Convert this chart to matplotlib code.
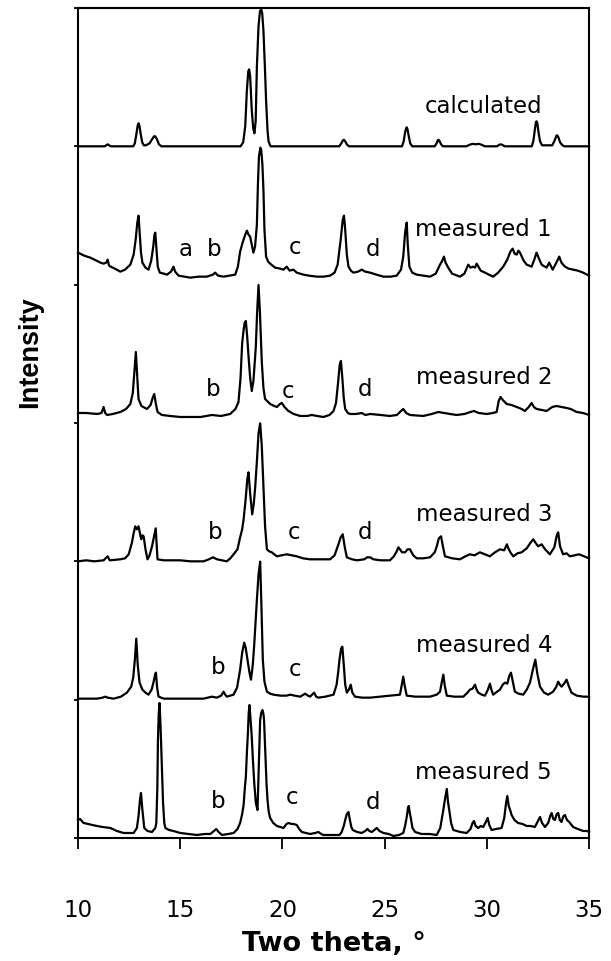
import matplotlib
matplotlib.use("Agg")
import matplotlib.pyplot as plt

# two theta (deg) and intensity (a.u.)
calc_tt = [10.0, 11.3, 11.38, 11.45, 11.52, 11.6, 12.7, 12.78, 12.86, 12.92, 12.96, 13.0, 13.06, 13.14,
           13.22, 13.32, 13.5, 13.62, 13.72, 13.78, 13.86, 13.96, 14.08, 17.95, 18.08, 18.18, 18.26,
           18.33, 18.37, 18.42, 18.5, 18.57, 18.63, 18.69, 18.75, 18.83, 18.9, 18.96, 19.01, 19.07,
           19.14, 19.2, 19.27, 19.32, 19.42, 22.78, 22.88, 22.96, 23.01, 23.07, 23.15, 23.25, 25.85,
           25.93, 26.0, 26.05, 26.08, 26.12, 26.18, 26.25, 26.35, 27.45, 27.54, 27.6, 27.63, 27.68,
           27.76, 27.85, 29.0, 29.15, 29.3, 29.45, 29.6, 29.75, 29.9, 30.5, 30.6, 30.67, 30.75, 30.88,
           32.2, 32.28, 32.35, 32.4, 32.43, 32.47, 32.52, 32.6, 32.7, 33.2, 33.32, 33.4, 33.44, 33.5,
           33.58, 33.7, 33.8, 35.0]
calc_int = [0, 0, 1, 2, 1, 0, 0, 3, 13, 21, 23, 21, 13, 4,
            1, 1, 3, 7, 10, 10, 7, 2, 0, 0, 4, 20, 56,
            75, 77, 70, 36, 18, 13, 25, 80, 120, 135, 137, 133, 116,
            80, 46, 16, 5, 0, 0, 3, 6, 6.5, 5, 2, 0, 0,
            5, 14, 18, 19, 17, 10, 3, 0, 0, 3, 6, 6.5, 5.5,
            2, 0, 0, 1.5, 2.5, 2, 2.5, 1.5, 0, 0, 1.5, 2, 1.5, 0,
            0, 6, 17, 24, 25, 23, 15, 5, 1, 1, 6, 10.5, 11, 9,
            4, 1, 0, 0]

m1_tt = [10.0, 10.3, 10.6, 10.9, 11.1, 11.25, 11.38, 11.45, 11.52, 11.6, 11.8, 12.07, 12.3, 12.56,
         12.72, 12.82, 12.9, 12.96, 13.02, 13.08, 13.15, 13.3, 13.45, 13.58, 13.68, 13.74, 13.78, 13.84,
         13.9, 14.0, 14.2, 14.35, 14.55, 14.67, 14.75, 14.92, 15.2, 15.49, 15.9, 16.3, 16.6, 16.71,
         16.85, 17.12, 17.4, 17.69, 17.82, 17.93, 18.05, 18.18, 18.26, 18.34, 18.42, 18.5, 18.58, 18.66,
         18.75, 18.8, 18.85, 18.92, 18.96, 19.02, 19.07, 19.12, 19.2, 19.3, 19.4, 19.64, 19.9, 20.05,
         20.21, 20.35, 20.54, 20.7, 21.03, 21.3, 21.68, 22.0, 22.33, 22.55, 22.7, 22.85, 22.95, 23.01,
         23.07, 23.15, 23.23, 23.35, 23.47, 23.7, 23.88, 24.05, 24.29, 24.6, 24.94, 25.3, 25.59, 25.8,
         25.91, 26.0, 26.08, 26.13, 26.21, 26.35, 26.57, 26.9, 27.22, 27.5, 27.71, 27.82, 27.9, 27.98,
         28.11, 28.3, 28.68, 28.9, 29.09, 29.2, 29.33, 29.42, 29.5, 29.7, 29.91, 30.1, 30.31, 30.55,
         30.8, 31.0, 31.15, 31.26, 31.36, 31.46, 31.54, 31.62, 31.8, 31.95, 32.19, 32.32, 32.43, 32.55,
         32.68, 32.92, 33.05, 33.22, 33.4, 33.54, 33.65, 33.82, 34.0, 34.22, 34.45, 34.71, 35.0]
m1_int = [32, 29, 27, 24, 22, 21, 22, 25, 19, 18, 16, 13, 15, 20,
          30, 45, 62, 69, 50, 32, 22, 17, 15, 24, 38, 50, 52, 35,
          18, 12, 11, 10, 13, 18, 13, 9, 8, 7, 8, 8, 10, 12,
          9, 8, 9, 10, 18, 33, 42, 50, 54, 50, 48, 40, 32, 38,
          60, 100, 128, 137, 135, 120, 95, 55, 28, 23, 21, 17, 16, 15,
          18, 14, 15, 12, 10, 9, 8, 8, 9, 12, 20, 45, 65, 69,
          55, 30, 18, 14, 12, 13, 15, 13, 12, 10, 8, 8, 9, 15,
          28, 52, 62, 40, 18, 12, 10, 9, 8, 11, 20, 24, 28, 22,
          17, 11, 8, 11, 20, 17, 18, 17, 21, 14, 12, 10, 8, 12,
          18, 25, 33, 36, 31, 30, 34, 32, 24, 20, 18, 25, 32, 26,
          20, 17, 22, 15, 22, 28, 22, 18, 16, 15, 14, 12, 9]

m2_tt = [10.0, 10.4, 10.93, 11.15, 11.25, 11.33, 11.42, 11.7, 12.07, 12.35, 12.56, 12.68, 12.76, 12.83,
         12.9, 12.96, 13.1, 13.37, 13.55, 13.65, 13.73, 13.8, 13.89, 14.1, 14.51, 15.0, 15.49, 16.0,
         16.55, 17.0, 17.44, 17.7, 17.85, 17.95, 18.03, 18.1, 18.15, 18.21, 18.28, 18.34, 18.42, 18.5,
         18.58, 18.65, 18.7, 18.76, 18.83, 18.9, 18.99, 19.07, 19.15, 19.4, 19.6, 19.73, 19.88, 19.97,
         20.1, 20.29, 20.55, 20.87, 21.2, 21.44, 21.7, 22.0, 22.3, 22.5, 22.62, 22.72, 22.8, 22.86,
         22.93, 23.0, 23.07, 23.2, 23.31, 23.6, 23.88, 24.05, 24.29, 24.8, 25.26, 25.6, 25.8, 25.91,
         26.05, 26.24, 26.89, 27.3, 27.63, 27.9, 28.2, 28.52, 28.9, 29.2, 29.37, 29.6, 29.99, 30.3,
         30.48, 30.58, 30.67, 30.78, 30.97, 31.2, 31.46, 31.7, 31.86, 32.05, 32.19, 32.3, 32.43, 32.7,
         32.92, 33.2, 33.41, 33.65, 33.9, 34.1, 34.39, 34.7, 35.0]
m2_int = [10, 10, 9, 10, 16, 10, 8, 9, 11, 14, 19, 30, 52, 71,
          45, 24, 17, 14, 18, 25, 29, 20, 11, 8, 7, 6, 6, 6,
          8, 7, 9, 14, 21, 45, 80, 93, 100, 102, 85, 67, 45, 32,
          42, 62, 77, 110, 138, 110, 61, 35, 24, 19, 17, 16, 19, 20,
          16, 12, 9, 7, 7, 8, 7, 6, 8, 12, 20, 40, 58, 62,
          45, 25, 14, 10, 9, 9, 10, 8, 9, 8, 7, 8, 12, 14,
          10, 8, 7, 9, 11, 10, 9, 8, 9, 11, 12, 10, 9, 10,
          11, 22, 26, 23, 19, 18, 16, 14, 12, 16, 20, 16, 14, 13,
          12, 16, 17, 16, 15, 14, 11, 10, 8]

m3_tt = [10.0, 10.4, 10.8, 11.25, 11.45, 11.55, 12.07, 12.3, 12.48, 12.64, 12.72, 12.8, 12.88, 12.96,
         13.03, 13.09, 13.15, 13.21, 13.3, 13.4, 13.5, 13.62, 13.72, 13.8, 13.85, 13.89, 14.2, 14.51,
         15.0, 15.5, 16.14, 16.4, 16.6, 16.8, 17.28, 17.45, 17.61, 17.8, 17.93, 18.03, 18.1, 18.2,
         18.28, 18.34, 18.42, 18.52, 18.6, 18.67, 18.75, 18.83, 18.91, 18.99, 19.07, 19.15, 19.24, 19.35,
         19.48, 19.6, 19.73, 19.95, 20.21, 20.45, 20.7, 21.0, 21.35, 21.8, 22.33, 22.55, 22.74, 22.85,
         22.95, 23.05, 23.15, 23.4, 23.64, 24.0, 24.15, 24.29, 24.45, 24.8, 25.26, 25.45, 25.59, 25.67,
         25.75, 25.85, 26.0, 26.12, 26.24, 26.4, 26.57, 26.9, 27.22, 27.45, 27.55, 27.65, 27.76, 27.85,
         27.95, 28.3, 28.68, 28.95, 29.17, 29.4, 29.66, 29.9, 30.15, 30.4, 30.64, 30.85, 30.98, 31.05,
         31.15, 31.29, 31.5, 31.7, 31.95, 32.15, 32.27, 32.4, 32.51, 32.68, 32.85, 33.08, 33.3, 33.42,
         33.49, 33.58, 33.73, 33.9, 34.06, 34.3, 34.51, 34.75, 35.0]
m3_int = [0, 1, 0, 1, 5, 1, 2, 3, 7, 19, 28, 35, 32, 35,
          28, 22, 26, 25, 12, 2, 6, 15, 25, 33, 15, 2, 1, 1,
          1, 0, 0, 2, 4, 2, 0, 3, 7, 12, 24, 32, 42, 62,
          82, 89, 68, 47, 58, 75, 100, 128, 138, 115, 75, 35, 12, 10,
          9, 7, 5, 6, 7, 6, 5, 3, 2, 2, 2, 6, 17, 24,
          27, 14, 4, 2, 1, 2, 4, 4, 2, 1, 1, 5, 10, 14,
          12, 9, 9, 12, 12, 6, 3, 3, 4, 9, 15, 23, 25, 15,
          5, 3, 2, 5, 7, 6, 9, 7, 5, 9, 12, 11, 17, 13,
          9, 5, 8, 9, 13, 19, 22, 18, 15, 17, 12, 7, 14, 26,
          29, 15, 7, 8, 5, 6, 7, 5, 3]

m4_tt = [10.0, 10.5, 10.93, 11.2, 11.33, 11.45, 11.74, 12.1, 12.39, 12.6, 12.7, 12.78, 12.85, 12.92,
         13.01, 13.15, 13.3, 13.45, 13.6, 13.7, 13.77, 13.81, 13.87, 13.94, 14.2, 14.51, 15.3, 16.14,
         16.35, 16.55, 16.79, 17.0, 17.12, 17.2, 17.28, 17.61, 17.78, 17.93, 18.03, 18.13, 18.2, 18.29,
         18.38, 18.46, 18.55, 18.62, 18.67, 18.75, 18.83, 18.91, 18.97, 19.04, 19.12, 19.24, 19.4, 19.56,
         19.9, 20.2, 20.38, 20.6, 20.87, 21.11, 21.25, 21.35, 21.55, 21.65, 21.76, 22.1, 22.5, 22.65,
         22.73, 22.79, 22.87, 22.93, 23.0, 23.07, 23.15, 23.25, 23.34, 23.42, 23.55, 23.9, 24.29, 24.78,
         25.3, 25.75, 25.84, 25.91, 25.98, 26.08, 26.5, 27.22, 27.55, 27.71, 27.8, 27.87, 27.94, 28.04,
         28.4, 28.85, 29.05, 29.17, 29.3, 29.42, 29.5, 29.58, 29.75, 29.91, 30.05, 30.15, 30.22, 30.31,
         30.5, 30.64, 30.78, 30.88, 31.0, 31.1, 31.18, 31.27, 31.37, 31.55, 31.78, 31.95, 32.11, 32.25,
         32.37, 32.47, 32.6, 32.8, 33.0, 33.24, 33.4, 33.49, 33.57, 33.65, 33.78, 33.9, 34.0, 34.14,
         34.4, 34.71, 35.0]
m4_int = [1, 1, 1, 2, 3, 2, 1, 3, 7, 13, 22, 40, 61, 35,
          17, 10, 7, 5, 10, 18, 25, 27, 12, 3, 1, 1, 1, 1,
          2, 3, 2, 4, 8, 5, 3, 5, 12, 30, 47, 57, 52, 40,
          28, 20, 35, 55, 73, 100, 125, 138, 95, 40, 18, 8, 6, 5,
          4, 4, 5, 4, 3, 6, 4, 3, 7, 3, 2, 3, 5, 15,
          28, 40, 51, 53, 35, 15, 7, 10, 15, 7, 3, 2, 2, 3,
          4, 5, 15, 23, 14, 4, 3, 3, 5, 8, 18, 25, 14, 4,
          3, 3, 7, 10, 11, 15, 10, 7, 5, 4, 10, 16, 10, 5,
          8, 10, 15, 17, 16, 24, 27, 18, 8, 6, 5, 10, 17, 30,
          40, 26, 13, 7, 5, 8, 13, 18, 15, 13, 16, 20, 14, 7,
          4, 3, 3]

m5_tt = [10.0, 10.1, 10.27, 10.5, 10.7, 10.93, 11.2, 11.58, 11.9, 12.23, 12.5, 12.72, 12.88, 12.96,
         13.03, 13.08, 13.14, 13.24, 13.4, 13.62, 13.78, 13.83, 13.88, 13.91, 13.95, 13.99, 14.04, 14.1,
         14.16, 14.22, 14.27, 14.45, 14.67, 15.0, 15.4, 15.81, 16.2, 16.47, 16.65, 16.76, 16.88, 17.04,
         17.35, 17.61, 17.8, 17.93, 18.03, 18.1, 18.16, 18.21, 18.26, 18.31, 18.35, 18.39, 18.44, 18.5,
         18.55, 18.62, 18.7, 18.78, 18.84, 18.91, 18.96, 19.02, 19.07, 19.1, 19.17, 19.22, 19.27, 19.33,
         19.4, 19.55, 19.73, 19.9, 20.05, 20.2, 20.29, 20.45, 20.55, 20.7, 20.82, 20.95, 21.15, 21.35,
         21.6, 21.76, 21.9, 22.0, 22.4, 22.79, 22.9, 23.0, 23.07, 23.15, 23.23, 23.3, 23.37, 23.44,
         23.65, 23.88, 24.05, 24.16, 24.25, 24.37, 24.5, 24.61, 24.75, 24.94, 25.2, 25.43, 25.7, 25.91,
         26.0, 26.08, 26.14, 26.18, 26.23, 26.28, 26.36, 26.49, 26.8, 27.2, 27.55, 27.72, 27.87, 27.96,
         28.04, 28.1, 28.16, 28.25, 28.36, 28.7, 29.01, 29.2, 29.3, 29.37, 29.45, 29.58, 29.7, 29.82,
         29.95, 30.04, 30.12, 30.23, 30.45, 30.72, 30.85, 30.94, 31.0, 31.07, 31.14, 31.21, 31.35, 31.53,
         31.75, 31.95, 32.15, 32.35, 32.5, 32.6, 32.7, 32.84, 33.0, 33.1, 33.17, 33.25, 33.33, 33.42,
         33.49, 33.57, 33.65, 33.75, 33.82, 33.92, 34.03, 34.22, 34.45, 34.71, 34.9, 35.0]
m5_int = [18, 19, 15, 14, 13, 12, 11, 10, 7, 5, 5, 5, 10, 22,
          38, 45, 30, 10, 7, 6, 10, 15, 50, 98, 125, 135, 110, 71,
          35, 15, 10, 8, 7, 5, 4, 3, 4, 4, 7, 9, 6, 3,
          4, 5, 9, 15, 24, 33, 50, 61, 85, 105, 125, 133, 118, 101,
          80, 55, 35, 28, 70, 118, 125, 128, 124, 118, 80, 55, 38, 26,
          20, 15, 12, 11, 10, 14, 15, 14, 14, 13, 9, 6, 5, 4,
          5, 6, 4, 3, 3, 3, 6, 12, 18, 24, 26, 18, 11, 8,
          6, 5, 7, 9, 7, 6, 8, 10, 7, 5, 4, 2, 3, 5,
          12, 21, 30, 32, 25, 20, 10, 6, 4, 4, 3, 10, 28, 40,
          49, 36, 28, 15, 8, 6, 5, 9, 15, 17, 12, 10, 12, 11,
          16, 20, 13, 8, 9, 10, 20, 35, 42, 32, 28, 23, 18, 15,
          14, 12, 12, 11, 17, 21, 15, 11, 15, 22, 25, 19, 18, 24,
          25, 18, 16, 22, 23, 18, 16, 11, 9, 7, 7, 6]

names = ["measured 5", "measured 4", "measured 3", "measured 2", "measured 1", "calculated"]
tts = [m5_tt, m4_tt, m3_tt, m2_tt, m1_tt, calc_tt]
ints = [m5_int, m4_int, m3_int, m2_int, m1_int, calc_int]
name_y = [65, 192, 323, 460, 608, 731]

# impurity marks (letter, two theta, height on the stack)
mark_letters = ["a", "b", "c", "d",
                "b", "c", "d",
                "b", "c", "d",
                "b", "c",
                "b", "c", "d"]
mark_tt = [15.25, 16.67, 20.62, 24.45,
           16.63, 20.29, 24.04,
           16.71, 20.57, 24.04,
           16.87, 20.62,
           16.87, 20.46, 24.45]
mark_y = [588, 588, 590, 588,
          448, 446, 448,
          305, 305, 305,
          170, 168,
          36, 40, 35]

step = 138.33

plt.rcParams['font.family'] = ['DejaVu Sans']

fig = plt.figure(figsize=(6.11, 9.61), dpi=100)
ax = fig.add_axes([0.1277, 0.128, 0.8364, 0.8637])

for k in range(len(names)):
    y = [v + k * step for v in ints[k]]
    ax.plot(tts[k], y, color='black', lw=1.6, solid_joinstyle='round', clip_on=False)
    ax.text(29.85, name_y[k], names[k], ha='center', va='center', fontsize=16.5)

for s, x, y in zip(mark_letters, mark_tt, mark_y):
    ax.text(x, y, s, ha='center', va='center', fontsize=16.5)

ax.set_xlim(10, 35)
ax.set_ylim(0, 6 * step)
ax.set_xticks([10, 15, 20, 25, 30, 35])
ax.set_yticks([k * step for k in range(7)])
ax.set_yticklabels([])
ax.tick_params(axis='x', direction='out', length=8, width=1.3, labelsize=16.5, pad=36)
ax.tick_params(axis='y', direction='out', length=3, width=1.3)
for sp in ax.spines.values():
    sp.set_linewidth(1.5)

fig.text(0.05, 0.634, 'Intensity', rotation=90, ha='center', va='center',
         fontsize=19.5, fontweight='bold', family='Liberation Sans')
fig.text(0.546, 0.018, 'Two theta, \u00b0', ha='center', va='center',
         fontsize=19.5, fontweight='bold')

fig.savefig('out.png', dpi=100)
